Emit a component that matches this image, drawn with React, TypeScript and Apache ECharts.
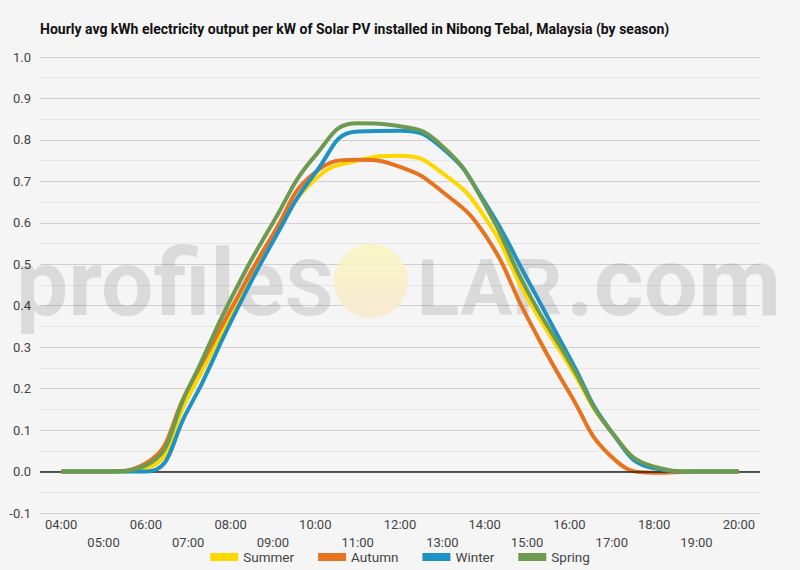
import React, { useEffect, useRef } from "react";
import * as echarts from "echarts";

const hours = ["04:00","05:00","06:00","07:00","08:00","09:00","10:00","11:00","12:00","13:00","14:00","15:00","16:00","17:00","18:00","19:00","20:00"];
const summer = [0, 0, 0.008, 0.18, 0.375, 0.56, 0.705, 0.75, 0.762, 0.72, 0.614, 0.42, 0.255, 0.095, 0.01, 0, 0];
const autumn = [0, 0, 0.02, 0.2, 0.39, 0.572, 0.722, 0.752, 0.735, 0.675, 0.572, 0.373, 0.19, 0.035, -0.003, 0, 0];
const winter = [0, 0, 0.0, 0.15, 0.36, 0.555, 0.72, 0.82, 0.822, 0.78, 0.65, 0.465, 0.276, 0.095, 0.008, 0, 0];
const spring = [0, 0, 0.015, 0.2, 0.415, 0.6, 0.762, 0.84, 0.833, 0.785, 0.645, 0.437, 0.265, 0.095, 0.012, 0, 0];
const seriesNames = ["Summer", "Autumn", "Winter", "Spring"];
const seriesColors = ["#FFD700", "#E8731F", "#1E92C4", "#6C9A50"];

export default function App() {
  const ref = useRef<HTMLDivElement>(null);
  useEffect(() => {
    if (!ref.current) return;
    const chart = echarts.init(ref.current, null, { renderer: "svg" });
    const font = "Roboto";
    const dataSets = [summer, autumn, winter, spring];
    const wm = "rgba(0,0,0,0.11)";
    const baseline = 315;
    const wmText = (text: string, x: number, size: number, align: string) => ({
      type: "text",
      z: 1,
      silent: true,
      style: {
        text,
        x,
        y: baseline - 0.84 * size,
        align,
        verticalAlign: "top",
        fontFamily: font,
        fontWeight: "bold",
        fontSize: size,
        fill: wm,
      },
    });
    chart.setOption({
      animation: false,
      backgroundColor: "#f5f5f5",
      textStyle: { fontFamily: font },
      title: {
        text: "Hourly avg kWh electricity output per kW of Solar PV installed in Nibong Tebal, Malaysia (by season)",
        left: 35,
        top: 17,
        textStyle: { fontFamily: font, fontSize: 14, fontWeight: "bold", color: "#111" },
      },
      graphic: [
        wmText("profile", 285, 93, "right"),
        wmText("S", 333, 78, "right"),
        {
          type: "circle",
          z: 1,
          silent: true,
          shape: { cx: 371, cy: 281, r: 37 },
          style: {
            fill: new echarts.graphic.LinearGradient(0, 0, 0, 1, [
              { offset: 0, color: "rgba(250,246,190,0.85)" },
              { offset: 1, color: "rgba(248,232,205,0.85)" },
            ]),
          },
        },
        wmText("LAR", 417, 78, "left"),
        wmText(".com", 566, 96, "left"),
      ],
      legend: {
        data: seriesNames,
        bottom: 1,
        left: "center",
        icon: "rect",
        itemWidth: 28,
        itemHeight: 8,
        itemGap: 24,
        textStyle: { fontFamily: font, fontSize: 13.5, color: "#444" },
      },
      grid: { left: 40, right: 40, top: 57, bottom: 57 },
      xAxis: {
        type: "category",
        data: hours,
        boundaryGap: true,
        axisLine: { show: false },
        axisTick: { show: false },
        splitLine: { show: false },
        axisLabel: {
          interval: 0,
          margin: 2,
          lineHeight: 18,
          fontFamily: font,
          fontSize: 13,
          color: "#444",
          formatter: (v: string, i: number) => (i % 2 === 1 ? "\n" + v : v),
        },
      },
      yAxis: {
        type: "value",
        min: -0.1,
        max: 1.0,
        interval: 0.1,
        axisLine: { show: false },
        axisTick: { show: false },
        axisLabel: {
          fontFamily: font,
          fontSize: 13,
          color: "#444",
          margin: 9,
          formatter: (v: number) => v.toFixed(1),
        },
        splitLine: { show: true, lineStyle: { color: "#cfcfcf", width: 1 } },
        minorTick: { show: false, splitNumber: 2 },
        minorSplitLine: { show: true, lineStyle: { color: "#e6e6e6", width: 1 } },
      },
      series: [
        {
          name: "zero",
          type: "line",
          data: [],
          z: 1,
          silent: true,
          markLine: {
            silent: true,
            symbol: ["none", "none"],
            label: { show: false },
            lineStyle: { color: "#222", width: 1.5, type: "solid" },
            data: [{ yAxis: 0 }],
          },
        },
        ...seriesNames.map((name, k) => ({
          name,
          type: "line",
          data: dataSets[k],
          smooth: 0.5,
          showSymbol: false,
          symbol: "none",
          z: 3 + k,
          itemStyle: { color: seriesColors[k] },
          lineStyle: { color: seriesColors[k], width: 4 },
        })),
      ],
    });
    return () => chart.dispose();
  }, []);
  return <div ref={ref} style={{ position: "fixed", left: 0, top: 0, width: 800, height: 570 }} />;
}
